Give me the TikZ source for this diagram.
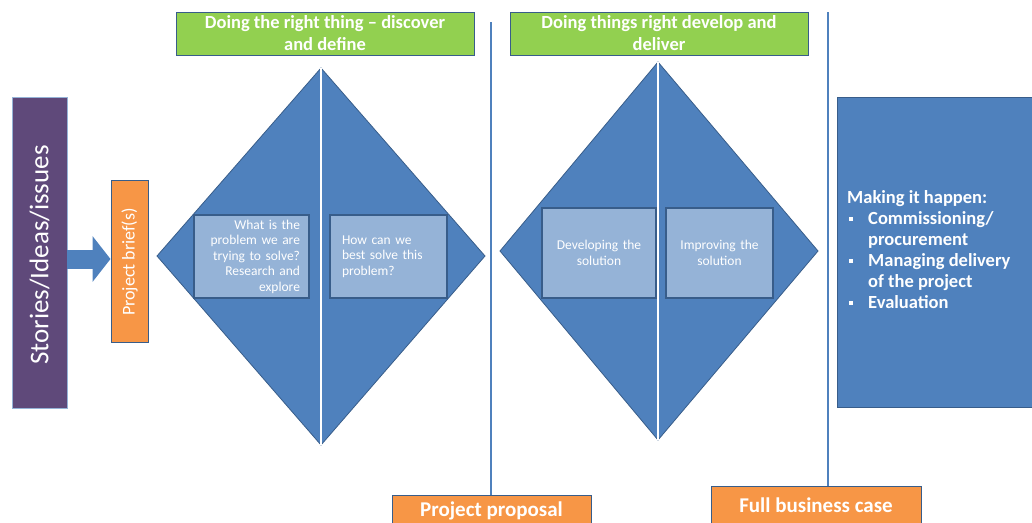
\documentclass[tikz,border=0pt]{standalone}
\usepackage{fontspec}
\setmainfont{Carlito}
\usetikzlibrary{arrows.meta}
\definecolor{dblue}{HTML}{4F81BD}
\definecolor{dborder}{HTML}{385D8A}
\definecolor{lblue}{HTML}{95B3D7}
\definecolor{lgreen}{HTML}{92D050}
\definecolor{orng}{HTML}{F79646}
\definecolor{purp}{HTML}{5F497A}
\newcommand\mybul{\makebox[21pt][l]{\hspace{2pt}\raisebox{4pt}{\rule{4pt}{4pt}}}}
\begin{document}
\begin{tikzpicture}[x=1pt,y=-1pt,
  box/.style={rectangle, inner sep=0pt, draw=dborder, line width=1pt, text=white},
  greenbox/.style={box, fill=lgreen, font=\bfseries\fontsize{18.5}{22}\selectfont, align=center},
  orangebox/.style={box, fill=orng, font=\bfseries\fontsize{21}{24}\selectfont},
  innerbox/.style={box, fill=lblue, line width=1.5pt, font=\fontsize{13.5}{15.5}\selectfont},
  diafill/.style={fill=dblue, draw=dborder, line width=0.8pt},
  split/.style={draw=white, line width=1.5pt},
  vline/.style={draw=dblue, line width=1.5pt},
  blockarrow/.style={draw=dblue, line width=19pt, -{Triangle[length=18pt,width=45pt]}}
]
\useasboundingbox (0,0) rectangle (1032,522);

% left column
\node[box, fill=purp, draw=lblue, line width=0.8pt, minimum width=55pt, minimum height=311pt] (stories) at (39.5,252.5) {};
\node[text=white, rotate=90, font=\fontsize{27}{30}\selectfont] (storiestxt) at (39.5,255) {Stories/Ideas/issues};
\node[orangebox, minimum width=37pt, minimum height=162pt] (brief) at (129.5,261) {};
\node[text=white, rotate=90, font=\fontsize{18}{20}\selectfont] (brieftxt) at (129.5,262) {Project brief(s)};
\draw[blockarrow] (stories.east |- 0,259) -- (brief.west |- 0,259);

% headings
\node[greenbox, minimum width=298pt, minimum height=43pt] (g1) at (325,33.5) {Doing the right thing -- discover\\and define};
\node[greenbox, minimum width=298pt, minimum height=43pt] (g2) at (659,33.5) {Doing things right develop and\\deliver};

% diamond 1
\coordinate (d1t) at (321,68);
\coordinate (d1b) at (321,445);
\draw[diafill] (157,256) -- (d1t) -- (485,256) -- (d1b) -- cycle;
\draw[split] (d1t) -- (d1b);
\node[innerbox, minimum width=115pt, minimum height=83pt, text width=97pt, align=right] (b1) at (251.5,256.5) {What is the\\problem we are\\trying to solve?\\Research and\\explore};
\node[innerbox, minimum width=117pt, minimum height=83pt, text width=93pt, align=left] (b2) at (388.5,256.5) {How can we\\best solve this\\problem?};

% diamond 2
\coordinate (d2t) at (658,62);
\coordinate (d2b) at (658,440);
\draw[diafill] (500,251) -- (d2t) -- (818,251) -- (d2b) -- cycle;
\draw[split] (d2t) -- (d2b);
\node[innerbox, minimum width=114pt, minimum height=90pt, text width=100pt, align=center] (b3) at (599,253) {Developing the\\solution};
\node[innerbox, minimum width=107pt, minimum height=90pt, text width=95pt, align=center] (b4) at (719.5,253) {Improving the\\solution};

% right box
\node[box, fill=dblue, draw=dborder, minimum width=203pt, minimum height=310pt] (make) at (938.5,252) {};
\node[anchor=west, text=white, align=left, inner sep=0pt, font=\bfseries\fontsize{18.5}{21}\selectfont] (maketxt) at (847,250)
  {Making it happen:\\
   \mybul Commissioning/\\
   \hspace*{21pt}procurement\\
   \mybul Managing delivery\\
   \hspace*{21pt}of the project\\
   \mybul Evaluation};

% bottom boxes and separators
\node[orangebox, minimum width=199pt, minimum height=32pt] (proposal) at (491.5,511) {Project proposal};
\node[orangebox, minimum width=210pt, minimum height=38pt] (full) at (816,505) {Full business case};
\coordinate (t1) at (491,22);
\coordinate (t2) at (828,12);
\draw[vline] (t1) -- (t1 |- proposal.north);
\draw[vline] (t2) -- (t2 |- full.north);
\end{tikzpicture}
\end{document}
